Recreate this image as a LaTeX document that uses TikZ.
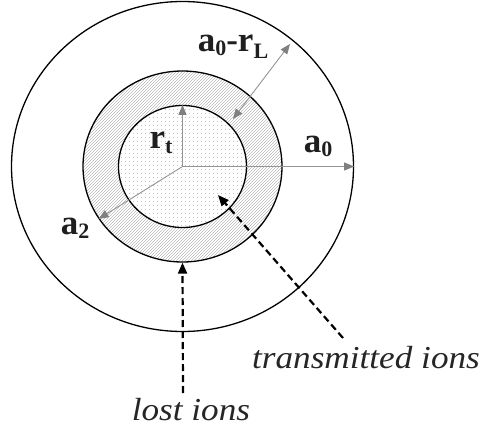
\documentclass[tikz,border=0pt]{standalone}
\usepackage{fontspec}
\setmainfont{Liberation Serif}
\newfontfamily\capfont[FakeStretch=1.1]{Liberation Serif}
\usetikzlibrary{shapes.geometric,arrows.meta,patterns}
\pgfdeclarepatternformonly{sparsedots}{\pgfpointorigin}{\pgfqpoint{4pt}{4pt}}{\pgfqpoint{4pt}{4pt}}{%
  \pgfpathcircle{\pgfqpoint{2pt}{2pt}}{0.5pt}\pgfusepath{fill}}
\pgfdeclarepatternformonly{finehatch}{\pgfqpoint{-1pt}{-1pt}}{\pgfqpoint{4pt}{4pt}}{\pgfqpoint{3pt}{3pt}}{%
  \pgfsetlinewidth{0.3pt}\pgfpathmoveto{\pgfqpoint{0pt}{0pt}}\pgfpathlineto{\pgfqpoint{3.1pt}{3.1pt}}\pgfusepath{stroke}}
\newcommand{\lsub}[2][4pt]{\raisebox{-#1}{\fontsize{22}{22}\selectfont #2}}
\tikzset{
  ring/.style={draw=black, ellipse, inner sep=0pt, line width=1.3pt},
  dim/.style={draw=black!42, line width=0.9pt, -{Triangle[length=10pt,width=8pt,color=black!50]}},
  dimboth/.style={dim, {Triangle[length=10pt,width=8pt,color=black!50]}-{Triangle[length=10pt,width=8pt,color=black!50]}},
  ionarrow/.style={draw=black, line width=2.2pt, dash pattern=on 7pt off 4pt, -{Triangle[length=11pt,width=9pt]}},
  symlabel/.style={inner sep=0pt, text=black!88, font=\bfseries\fontsize{35}{35}\selectfont},
  caption/.style={inner sep=0pt, text=black!85, font=\capfont\itshape\fontsize{32}{32}\selectfont}
}
\begin{document}
\begin{tikzpicture}[x=1pt,y=-1pt]
\useasboundingbox (0,0) rectangle (488,431);
\coordinate (C) at (182.5,166.5);
\node[ring, minimum width=342pt, minimum height=330pt] (outer) at (C) {};
\node[ring, minimum width=199pt, minimum height=191pt, pattern=finehatch, pattern color=black!45] (mid) at (C) {};
\node[ring, minimum width=128pt, minimum height=122pt, preaction={fill=white}, pattern=sparsedots, pattern color=black!40] (inner) at (C) {};
% dimension arrows
\draw[dim] (C) -- (outer.east);
\draw[dim] (C) -- (inner.north);
\draw[dim] (C) -- (mid.212);
\coordinate (dlow) at (233,119);
\coordinate (dhigh) at (290,44);
\draw[dimboth] (dlow) -- (dhigh);
% ion arrows
\coordinate (lostfoot) at (183,393);
\coordinate (transfoot) at (343,338);
\coordinate (transtip) at (218,195);
\draw[ionarrow] (lostfoot) -- (mid.south);
\draw[ionarrow] (transfoot) -- (transtip);
% labels
\node[symlabel] (la0) at (318,146) {a\lsub{0}};
\node[symlabel] (lrt) at (161,143) {r\lsub[5pt]{t}};
\node[symlabel] (la2) at (75,228) {a\lsub{2}};
\node[symlabel] (lar) at (233,47) {a\lsub{0}-r\lsub[7pt]{L}};
\node[caption, anchor=base] (ltrans) at (366,368) {transmitted ions};
\node[caption, anchor=base] (llost) at (191,420) {lost ions};
\end{tikzpicture}
\end{document}
